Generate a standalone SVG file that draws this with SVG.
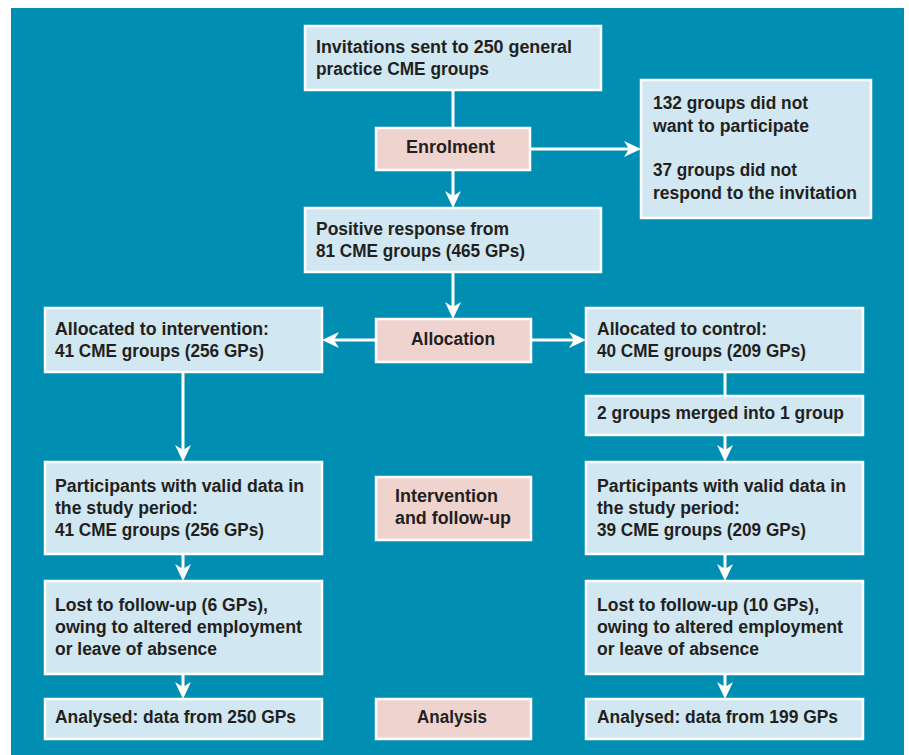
<svg xmlns="http://www.w3.org/2000/svg" width="909" height="755" viewBox="0 0 909 755">
<style>
.bg{fill:#008fb3}
.box{fill:#d1e7f1;stroke:#ffffff;stroke-width:2.5}
.pink{fill:#efd3cf;stroke:#ffffff;stroke-width:2.5}
text{font-family:"Liberation Sans Narrow","Liberation Sans",Arial,sans-serif;font-weight:bold;font-size:17.5px;fill:#231f20}
.c{text-anchor:middle}
.ln{stroke:#ffffff;stroke-width:3;fill:none}
.ar{marker-end:url(#ah)}
</style>
<defs>
<marker id="ah" markerUnits="userSpaceOnUse" viewBox="0 0 17 16" markerWidth="17" markerHeight="16" refX="11" refY="8" orient="auto">
<path d="M0,0 L17,8 L0,16 L5,8 Z" fill="#ffffff"/>
</marker>
</defs>
<rect x="0" y="0" width="909" height="755" fill="#ffffff"/>
<rect class="bg" x="11" y="8" width="893" height="747"/>

<g id="connectors">
<line class="ln" x1="453" y1="90" x2="453" y2="128"/>
<line class="ln ar" x1="453" y1="170" x2="453" y2="202"/>
<line class="ln ar" x1="530" y1="149" x2="635" y2="149"/>
<line class="ln ar" x1="453" y1="272" x2="453" y2="313"/>
<line class="ln ar" x1="376" y1="340" x2="328" y2="340"/>
<line class="ln ar" x1="531" y1="340" x2="580" y2="340"/>
<line class="ln ar" x1="183" y1="372" x2="183" y2="456"/>
<line class="ln ar" x1="183" y1="554" x2="183" y2="575"/>
<line class="ln ar" x1="183" y1="674" x2="183" y2="693"/>
<line class="ln" x1="725" y1="372" x2="725" y2="396"/>
<line class="ln ar" x1="725" y1="435" x2="725" y2="456"/>
<line class="ln ar" x1="725" y1="554" x2="725" y2="575"/>
<line class="ln ar" x1="725" y1="674" x2="725" y2="693"/>
</g>

<g id="invitations">
<rect class="box" x="305" y="26" width="296" height="64"/>
<text x="316" y="53" textLength="256" lengthAdjust="spacingAndGlyphs">Invitations sent to 250 general</text>
<text x="316" y="75" textLength="173" lengthAdjust="spacingAndGlyphs">practice CME groups</text>
</g>

<g id="enrolment">
<rect class="pink" x="376" y="128" width="154" height="42"/>
<text x="406" y="153" textLength="89" lengthAdjust="spacingAndGlyphs">Enrolment</text>
</g>

<g id="excluded">
<rect class="box" x="641" y="80" width="230" height="138"/>
<text x="653" y="109" textLength="155" lengthAdjust="spacingAndGlyphs">132 groups did not</text>
<text x="653" y="132" textLength="156" lengthAdjust="spacingAndGlyphs">want to participate</text>
<text x="653" y="176" textLength="144" lengthAdjust="spacingAndGlyphs">37 groups did not</text>
<text x="653" y="199" textLength="204" lengthAdjust="spacingAndGlyphs">respond to the invitation</text>
</g>

<g id="positive">
<rect class="box" x="305" y="208" width="296" height="64"/>
<text x="316" y="235" textLength="193" lengthAdjust="spacingAndGlyphs">Positive response from</text>
<text x="316" y="257" textLength="209" lengthAdjust="spacingAndGlyphs">81 CME groups (465 GPs)</text>
</g>

<g id="allocation">
<rect class="pink" x="376" y="319" width="155" height="43"/>
<text x="411" y="345" textLength="84" lengthAdjust="spacingAndGlyphs">Allocation</text>
</g>

<g id="alloc-intervention">
<rect class="box" x="45" y="308" width="277" height="64"/>
<text x="55" y="335" textLength="214" lengthAdjust="spacingAndGlyphs">Allocated to intervention:</text>
<text x="55" y="357" textLength="209" lengthAdjust="spacingAndGlyphs">41 CME groups (256 GPs)</text>
</g>

<g id="alloc-control">
<rect class="box" x="586" y="308" width="277" height="64"/>
<text x="597" y="335" textLength="170" lengthAdjust="spacingAndGlyphs">Allocated to control:</text>
<text x="597" y="357" textLength="209" lengthAdjust="spacingAndGlyphs">40 CME groups (209 GPs)</text>
</g>

<g id="merged">
<rect class="box" x="586" y="396" width="277" height="39"/>
<text x="597" y="419" textLength="247" lengthAdjust="spacingAndGlyphs">2 groups merged into 1 group</text>
</g>

<g id="valid-intervention">
<rect class="box" x="45" y="462" width="277" height="92"/>
<text x="55" y="492" textLength="249" lengthAdjust="spacingAndGlyphs">Participants with valid data in</text>
<text x="55" y="514" textLength="143" lengthAdjust="spacingAndGlyphs">the study period:</text>
<text x="55" y="536" textLength="209" lengthAdjust="spacingAndGlyphs">41 CME groups (256 GPs)</text>
</g>

<g id="intervention-followup">
<rect class="pink" x="376" y="477" width="155" height="63"/>
<text x="395" y="502" textLength="103" lengthAdjust="spacingAndGlyphs">Intervention</text>
<text x="395" y="524" textLength="116" lengthAdjust="spacingAndGlyphs">and follow-up</text>
</g>

<g id="valid-control">
<rect class="box" x="586" y="462" width="277" height="92"/>
<text x="597" y="492" textLength="249" lengthAdjust="spacingAndGlyphs">Participants with valid data in</text>
<text x="597" y="514" textLength="143" lengthAdjust="spacingAndGlyphs">the study period:</text>
<text x="597" y="536" textLength="209" lengthAdjust="spacingAndGlyphs">39 CME groups (209 GPs)</text>
</g>

<g id="lost-intervention">
<rect class="box" x="45" y="581" width="277" height="93"/>
<text x="55" y="611" textLength="213" lengthAdjust="spacingAndGlyphs">Lost to follow-up (6 GPs),</text>
<text x="55" y="633" textLength="247" lengthAdjust="spacingAndGlyphs">owing to altered employment</text>
<text x="55" y="655" textLength="162" lengthAdjust="spacingAndGlyphs">or leave of absence</text>
</g>

<g id="lost-control">
<rect class="box" x="586" y="581" width="277" height="93"/>
<text x="597" y="611" textLength="222" lengthAdjust="spacingAndGlyphs">Lost to follow-up (10 GPs),</text>
<text x="597" y="633" textLength="246" lengthAdjust="spacingAndGlyphs">owing to altered employment</text>
<text x="597" y="655" textLength="162" lengthAdjust="spacingAndGlyphs">or leave of absence</text>
</g>

<g id="analysed-intervention">
<rect class="box" x="45" y="699" width="277" height="40"/>
<text x="55" y="723" textLength="241" lengthAdjust="spacingAndGlyphs">Analysed: data from 250 GPs</text>
</g>

<g id="analysis">
<rect class="pink" x="376" y="699" width="155" height="40"/>
<text x="417" y="723" textLength="70" lengthAdjust="spacingAndGlyphs">Analysis</text>
</g>

<g id="analysed-control">
<rect class="box" x="586" y="699" width="277" height="40"/>
<text x="597" y="723" textLength="241" lengthAdjust="spacingAndGlyphs">Analysed: data from 199 GPs</text>
</g>
</svg>
